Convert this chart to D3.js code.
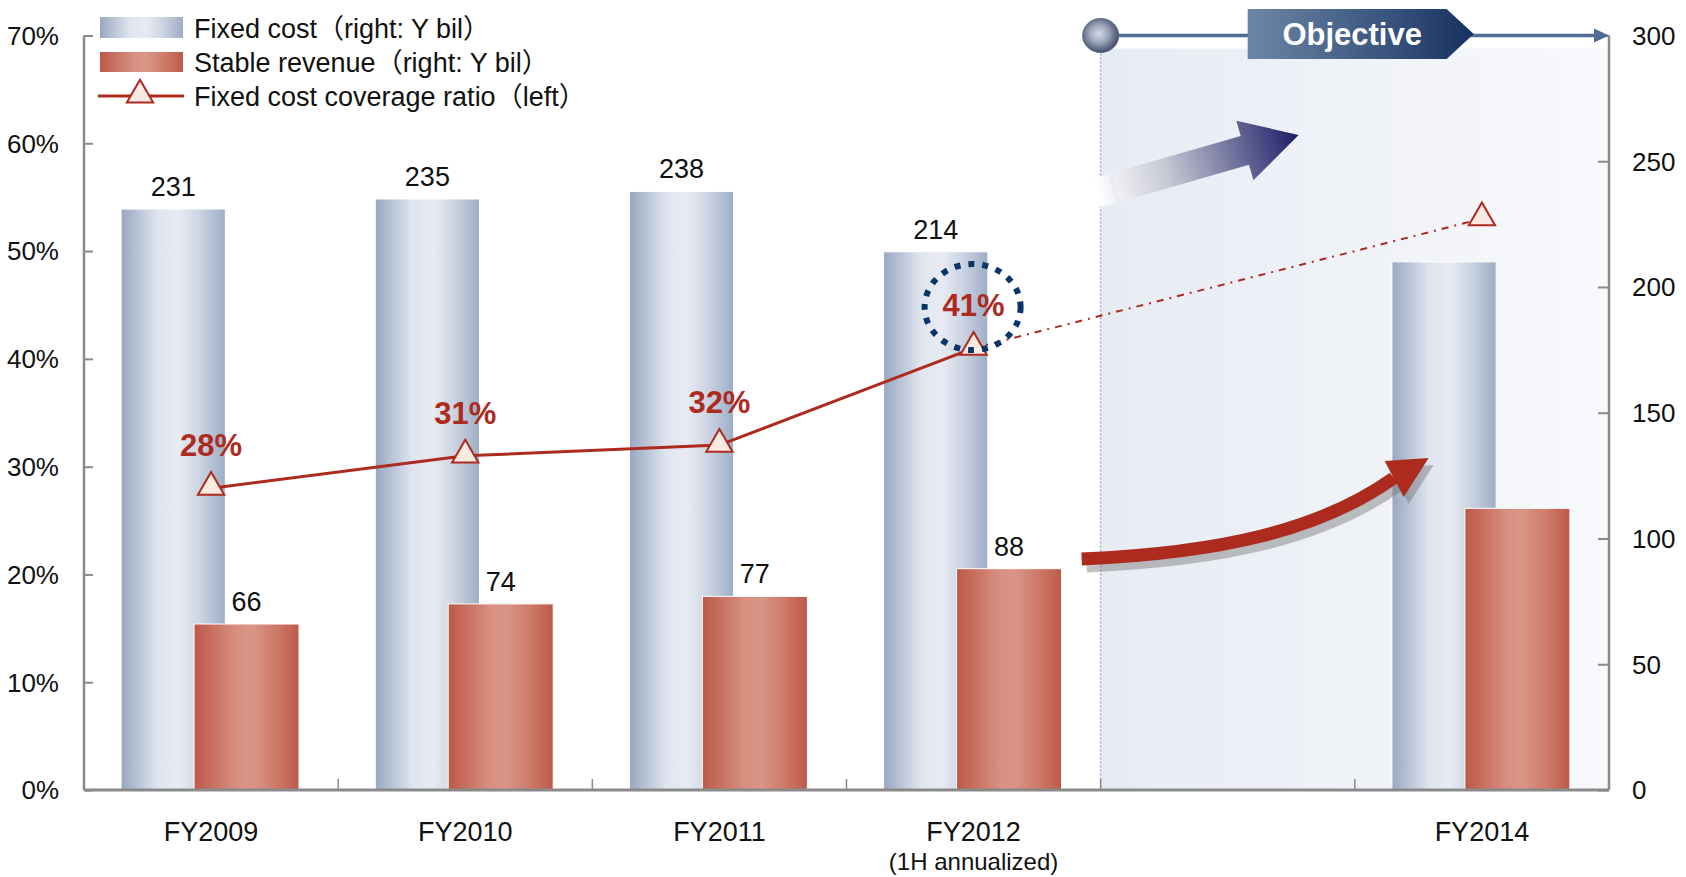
<!DOCTYPE html>
<html><head><meta charset="utf-8">
<script src="https://cdn.jsdelivr.net/npm/d3@7"></script>
<style>
html,body{margin:0;padding:0;background:#fff;}
svg{display:block;}
</style></head>
<body>
<svg id="chart" width="1686" height="877"></svg>
<script>
// ---------- data ----------
const categories = ["FY2009", "FY2010", "FY2011", "FY2012", "FY2013", "FY2014"];
const categoryLabels = ["FY2009", "FY2010", "FY2011", "FY2012", "", "FY2014"];
const categorySubLabels = ["", "", "", "(1H annualized)", "", ""];
const fixedCost = [231, 235, 238, 214, null, 210];
const stableRevenue = [66, 74, 77, 88, null, 112];
const coverageRatio = [28, 31, 32, 41, null, 53];
const showValueLabels = [true, true, true, true, false, false];
const leftTicks = [0, 10, 20, 30, 40, 50, 60, 70];
const rightTicks = [0, 50, 100, 150, 200, 250, 300];
const legendLabels = ["Fixed cost（right: Y bil）", "Stable revenue（right: Y bil）", "Fixed cost coverage ratio（left）"];
const objectiveLabel = "Objective";

// ---------- layout ----------
const W = 1686, H = 877;
const M = {left: 84, right: 1609, top: 35.5, bottom: 790};
const svg = d3.select("#chart");
const FONT = "'Liberation Sans Narrow','Liberation Sans','Noto Sans CJK JP',Arial,sans-serif";
const RED = "#ad2b1e";

const x = d3.scaleBand().domain(categories).range([M.left, M.right]).paddingInner(0).paddingOuter(0);
const yL = d3.scaleLinear().domain([0, 70]).range([M.bottom, M.top]);
const yR = d3.scaleLinear().domain([0, 300]).range([M.bottom, M.top]);
const bw = x.bandwidth();
const cx = c => x(c) + bw / 2;

// ---------- defs ----------
const defs = svg.append("defs");
function hGrad(id, stops) {
  const g = defs.append("linearGradient").attr("id", id).attr("x1", "0%").attr("x2", "100%").attr("y1", "0%").attr("y2", "0%");
  stops.forEach(s => g.append("stop").attr("offset", s[0]).attr("stop-color", s[1]).attr("stop-opacity", s[2] == null ? 1 : s[2]));
}
hGrad("gFixed", [["0%", "#97a7c1"], ["35%", "#dfe4ee"], ["55%", "#e8ebf3"], ["75%", "#cdd5e3"], ["100%", "#9dadc6"]]);
hGrad("gRev", [["0%", "#bd5848"], ["40%", "#d78f80"], ["55%", "#d89686"], ["80%", "#cd7767"], ["100%", "#bd5949"]]);
hGrad("gRegion", [["0%", "#e7ebf3"], ["100%", "#f8f9fc"]]);
hGrad("gObj", [["0%", "#6c86a6"], ["55%", "#3f5a82"], ["100%", "#173160"]]);
hGrad("gDarkArrow", [["0%", "#ffffff"], ["35%", "#c6c8d4"], ["100%", "#1c1d66"]]);
const rg = defs.append("radialGradient").attr("id", "gSphere").attr("cx", "45%").attr("cy", "45%").attr("r", "60%");
[["0%", "#d6dae4"], ["45%", "#9aa4b8"], ["100%", "#34425e"]].forEach(s => rg.append("stop").attr("offset", s[0]).attr("stop-color", s[1]));

// ---------- objective region ----------
const regionX = x(categories[4]);
svg.append("rect").attr("x", regionX).attr("y", M.top + 13).attr("width", M.right - regionX).attr("height", M.bottom - M.top - 13)
  .attr("fill", "url(#gRegion)");
svg.append("line").attr("x1", regionX).attr("x2", regionX).attr("y1", M.top + 14).attr("y2", M.bottom)
  .attr("stroke", "#a3a8c6").attr("stroke-width", 1.5).attr("stroke-dasharray", "2,2");

// ---------- bars ----------
const fixedOff = -0.354 * bw, fixedW = 0.41 * bw;
const revOff = -0.067 * bw, revW = 0.413 * bw;
const idx = d3.range(categories.length);

svg.append("g").selectAll("rect").data(idx.filter(i => fixedCost[i] != null)).join("rect")
  .attr("x", i => cx(categories[i]) + fixedOff).attr("width", fixedW)
  .attr("y", i => yR(fixedCost[i])).attr("height", i => yR(0) - yR(fixedCost[i]))
  .attr("fill", "url(#gFixed)").attr("stroke", "#ffffff").attr("stroke-width", 1);
svg.append("g").selectAll("rect").data(idx.filter(i => stableRevenue[i] != null)).join("rect")
  .attr("x", i => cx(categories[i]) + revOff).attr("width", revW)
  .attr("y", i => yR(stableRevenue[i])).attr("height", i => yR(0) - yR(stableRevenue[i]))
  .attr("fill", "url(#gRev)").attr("stroke", "#ffffff").attr("stroke-width", 1);

// ---------- axes ----------
const axisColor = "#8a8a8a";
const gl = svg.append("g").attr("transform", `translate(${M.left},0)`)
  .call(d3.axisRight(yL).tickValues(leftTicks).tickSize(9).tickFormat(""));
gl.select(".domain").remove();
gl.selectAll("line").attr("stroke", axisColor).attr("stroke-width", 2);
svg.append("line").attr("x1", M.left).attr("x2", M.left).attr("y1", M.top).attr("y2", M.bottom).attr("stroke", axisColor).attr("stroke-width", 2.5);
svg.append("g").selectAll("text").data(leftTicks).join("text")
  .attr("x", M.left - 25).attr("y", d => yL(d)).attr("dy", "0.36em").attr("text-anchor", "end")
  .attr("font-family", FONT).attr("font-size", 26).attr("fill", "#111").text(d => d + "%");

const gr = svg.append("g").attr("transform", `translate(${M.right},0)`)
  .call(d3.axisLeft(yR).tickValues(rightTicks).tickSize(11).tickFormat(""));
gr.select(".domain").remove();
gr.selectAll("line").attr("stroke", axisColor).attr("stroke-width", 2);
svg.append("line").attr("x1", M.right).attr("x2", M.right).attr("y1", M.top).attr("y2", M.bottom).attr("stroke", axisColor).attr("stroke-width", 2.5);
svg.append("g").selectAll("text").data(rightTicks).join("text")
  .attr("x", M.right + 23).attr("y", d => yR(d)).attr("dy", "0.36em").attr("text-anchor", "start")
  .attr("font-family", FONT).attr("font-size", 26).attr("fill", "#111").text(d => d);

// bottom axis
svg.append("line").attr("x1", M.left).attr("x2", M.right).attr("y1", M.bottom).attr("y2", M.bottom).attr("stroke", axisColor).attr("stroke-width", 3);
svg.append("g").selectAll("line").data(categories.slice(1)).join("line")
  .attr("x1", d => x(d)).attr("x2", d => x(d)).attr("y1", M.bottom).attr("y2", M.bottom - 11)
  .attr("stroke", axisColor).attr("stroke-width", 1.5);
svg.append("g").selectAll("text").data(idx).join("text")
  .attr("x", i => cx(categories[i])).attr("y", M.bottom + 51).attr("text-anchor", "middle")
  .attr("font-family", FONT).attr("font-size", 27).attr("fill", "#111").text(i => categoryLabels[i]);
svg.append("g").selectAll("text").data(idx.filter(i => categorySubLabels[i])).join("text")
  .attr("x", i => cx(categories[i])).attr("y", M.bottom + 80).attr("text-anchor", "middle")
  .attr("font-family", FONT).attr("font-size", 24).attr("fill", "#111").text(i => categorySubLabels[i]);

// ---------- value labels ----------
svg.append("g").selectAll("text").data(idx.filter(i => showValueLabels[i])).join("text")
  .attr("x", i => cx(categories[i]) + fixedOff + fixedW / 2).attr("y", i => yR(fixedCost[i]) - 13)
  .attr("text-anchor", "middle").attr("font-family", FONT).attr("font-size", 27).attr("fill", "#111").text(i => fixedCost[i]);
svg.append("g").selectAll("text").data(idx.filter(i => showValueLabels[i])).join("text")
  .attr("x", i => cx(categories[i]) + revOff + revW / 2).attr("y", i => yR(stableRevenue[i]) - 13)
  .attr("text-anchor", "middle").attr("font-family", FONT).attr("font-size", 27).attr("fill", "#111").text(i => stableRevenue[i]);

// ---------- objective header ----------
const sphereR = 18;
const objY = M.top;
svg.append("line").attr("x1", regionX + sphereR).attr("x2", M.right - 12).attr("y1", objY).attr("y2", objY)
  .attr("stroke", "#4d6b93").attr("stroke-width", 3.5);
svg.append("path").attr("d", `M${M.right},${objY} l-15,-7 l0,14 z`).attr("fill", "#4d6b93");
svg.append("ellipse").attr("cx", regionX).attr("cy", objY).attr("rx", sphereR).attr("ry", sphereR - 1)
  .attr("fill", "url(#gSphere)").attr("stroke", "#5a6880").attr("stroke-width", 1);
const bx0 = regionX + 147, bx1 = regionX + 346, btip = regionX + 373, by0 = 9, by1 = 59;
svg.append("path").attr("d", `M${bx0},${by0} L${bx1},${by0} L${btip},${(by0 + by1) / 2} L${bx1},${by1} L${bx0},${by1} Z`)
  .attr("fill", "url(#gObj)");
svg.append("text").attr("x", (bx0 + bx1) / 2 + 5).attr("y", (by0 + by1) / 2).attr("dy", "0.36em").attr("text-anchor", "middle")
  .attr("font-family", "'Liberation Sans',Arial,sans-serif").attr("font-weight", "bold").attr("font-size", 31).attr("fill", "#fff")
  .text(objectiveLabel);

// ---------- dark gradient arrow ----------
(function () {
  const sx = regionX - 4, sy = 193, tx = regionX + 198, ty = 135;
  const ang = Math.atan2(ty - sy, tx - sx) * 180 / Math.PI;
  const L = Math.hypot(tx - sx, ty - sy);
  const g = svg.append("g").attr("transform", `translate(${sx},${sy}) rotate(${ang})`);
  const hl = 56, sw = 15, hw = 31;
  g.append("path").attr("d", `M0,${-sw} L${L - hl},${-sw} L${L - hl},${-hw} L${L},0 L${L - hl},${hw} L${L - hl},${sw} L0,${sw} Z`)
    .attr("fill", "url(#gDarkArrow)");
  g.append("line").attr("x1", 18).attr("x2", 18).attr("y1", -sw - 1).attr("y2", sw + 1).attr("stroke", "#e9ecf4").attr("stroke-width", 4);
})();

// ---------- red curved arrow ----------
(function () {
  const p0 = [regionX - 19, 559], c1 = [regionX + 120, 553], c2 = [regionX + 220, 530], p1 = [regionX + 293, 478];
  const d = `M${p0} C${c1} ${c2} ${p1}`;
  const tip = [regionX + 328, 458], h1 = [regionX + 284, 461], h2 = [regionX + 303, 497];
  const sh = svg.append("g").attr("transform", "translate(5,7)").attr("opacity", 0.45);
  sh.append("path").attr("d", d).attr("fill", "none").attr("stroke", "#777").attr("stroke-width", 13);
  sh.append("path").attr("d", `M${tip} L${h1} L${h2} Z`).attr("fill", "#777");
  svg.append("path").attr("d", d).attr("fill", "none").attr("stroke", RED).attr("stroke-width", 13);
  svg.append("path").attr("d", `M${tip} L${h1} L${h2} Z`).attr("fill", RED);
})();

// ---------- coverage ratio line ----------
const actualIdx = [0, 1, 2, 3];
const projIdx = [3, 5];
const line = d3.line().x(i => cx(categories[i])).y(i => yL(coverageRatio[i]));
svg.append("path").attr("d", line(projIdx)).attr("fill", "none").attr("stroke", RED).attr("stroke-width", 2)
  .attr("stroke-dasharray", "7,6,2,6");
svg.append("path").attr("d", line(actualIdx)).attr("fill", "none").attr("stroke", RED).attr("stroke-width", 3);
const tri = d3.symbol().type(d3.symbolTriangle).size(300);
svg.append("g").selectAll("path").data(actualIdx.concat([5])).join("path")
  .attr("d", tri).attr("transform", i => `translate(${cx(categories[i])},${yL(coverageRatio[i]) - 1})`)
  .attr("fill", "#fbeae2").attr("stroke", RED).attr("stroke-width", 2);

// percent labels
svg.append("g").selectAll("text").data(actualIdx).join("text")
  .attr("x", i => cx(categories[i])).attr("y", i => yL(coverageRatio[i]) - 43).attr("dy", "0.36em")
  .attr("text-anchor", "middle").attr("font-family", "'Liberation Sans',Arial,sans-serif").attr("font-weight", "bold")
  .attr("font-size", 31).attr("fill", RED).text(i => coverageRatio[i] + "%");

// dotted circle round last actual value
svg.append("ellipse").attr("cx", cx(categories[3]) - 1).attr("cy", yL(coverageRatio[3]) - 41).attr("rx", 48).attr("ry", 43)
  .attr("fill", "none").attr("stroke", "#0b3568").attr("stroke-width", 6).attr("stroke-dasharray", "6,8");

// ---------- legend ----------
const lg = svg.append("g");
lg.append("rect").attr("x", 100).attr("y", 17).attr("width", 83).attr("height", 21).attr("fill", "url(#gFixed)");
lg.append("rect").attr("x", 100).attr("y", 52).attr("width", 83).attr("height", 20).attr("fill", "url(#gRev)");
lg.append("line").attr("x1", 98).attr("x2", 184).attr("y1", 96).attr("y2", 96).attr("stroke", RED).attr("stroke-width", 3);
lg.append("path").attr("d", tri).attr("transform", "translate(140,95)").attr("fill", "#fbeae2").attr("stroke", RED).attr("stroke-width", 2);
lg.selectAll("text").data(legendLabels).join("text")
  .attr("x", 194).attr("y", (d, i) => [28, 62, 96][i]).attr("dy", "0.36em")
  .attr("font-family", FONT).attr("font-size", 27).attr("fill", "#111").text(d => d);
</script>
</body></html>
